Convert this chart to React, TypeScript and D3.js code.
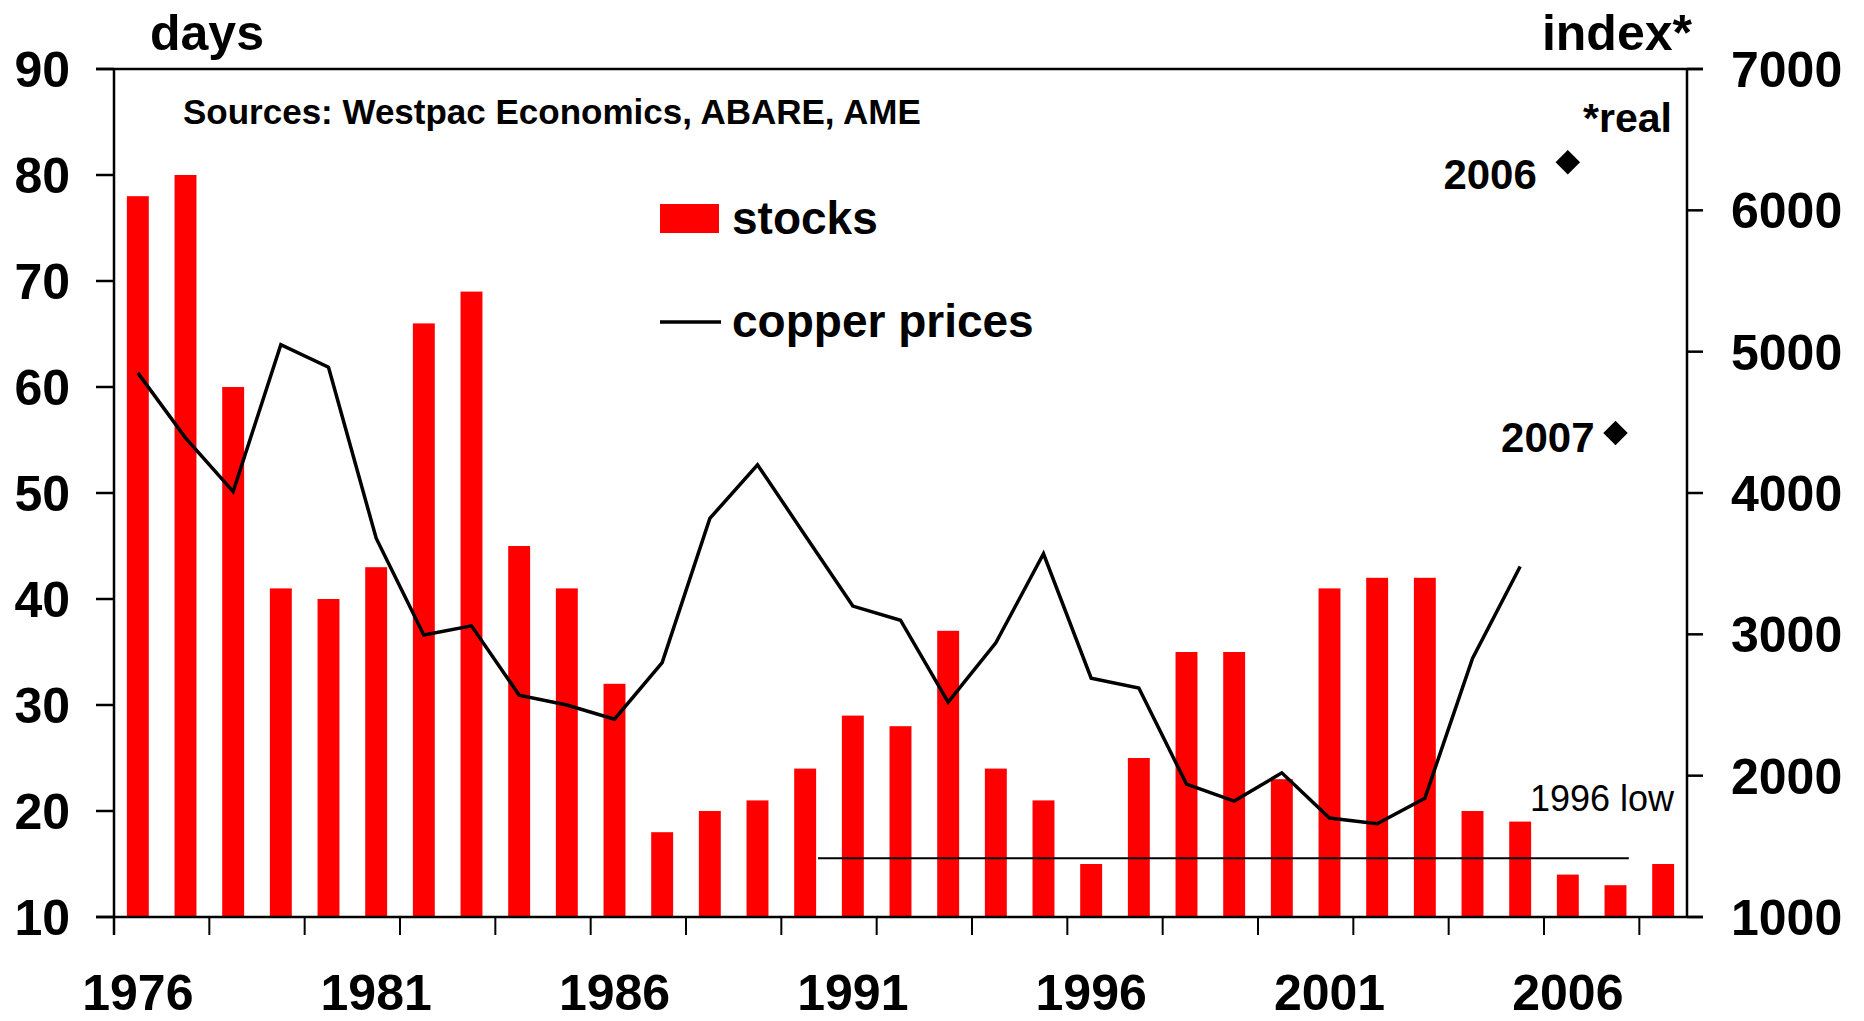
import React from 'react';
import * as d3 from 'd3';

// stocks in days of consumption, 1976-2008
const years = d3.range(1976, 2009);
const stocks = [
  78, 80, 60, 41, 40, 43, 66, 69, 45, 41, 32, 18, 20, 21, 24, 29, 28,
  37, 24, 21, 15, 25, 35, 35, 23, 41, 42, 42, 20, 19, 14, 13, 15,
];

// real copper price index, 1976-2005
const priceYears = d3.range(1976, 2006);
const copperPrices = [
  4850, 4390, 4010, 5050, 4890, 3680, 2995, 3060, 2570, 2500, 2400, 2800,
  3820, 4200, 3700, 3200, 3100, 2520, 2940, 3570, 2690, 2620, 1940, 1820,
  2020, 1700, 1660, 1840, 2830, 3480,
];

// forecast points
const forecastYears = [2006, 2007];
const forecastPrices = [6340, 4425];

const leftTicks = [10, 20, 30, 40, 50, 60, 70, 80, 90];
const rightTicks = [1000, 2000, 3000, 4000, 5000, 6000, 7000];
const yearLabels = [1976, 1981, 1986, 1991, 1996, 2001, 2006];

const lowLevel = 15.55; // 1996 low in days
const lowFrom = 1990.27;
const lowTo = 2007.28;

const App = () => {
  const width = 1864;
  const height = 1021;
  const left = 114;
  const right = 1687;
  const top = 69;
  const bottom = 917;
  const font = '"Liberation Sans", Arial, sans-serif';

  const x = d3.scaleLinear().domain([1975.5, 2008.5]).range([left, right]);
  const yLeft = d3.scaleLinear().domain([10, 90]).range([bottom, top]);
  const yRight = d3.scaleLinear().domain([1000, 7000]).range([bottom, top]);
  const band = x(1) - x(0);
  const barW = band * 0.46;

  const line = d3
    .line<number>()
    .x((_, i) => x(priceYears[i]))
    .y((d) => yRight(d));

  const diamond = d3.symbol().type(d3.symbolSquare).size(300)() || '';

  // x ticks every two years from the left edge
  const xTicks = d3.range(1975.5, 2008, 2);

  return (
    <svg
      width={width}
      height={height}
      style={{ position: 'absolute', left: 0, top: 0, background: '#fff' }}
      fontFamily={font}
      fontWeight="bold"
    >
      {/* bars */}
      {stocks.map((d, i) => (
        <rect
          key={years[i]}
          x={x(years[i]) - barW / 2}
          y={yLeft(d)}
          width={barW}
          height={bottom - yLeft(d)}
          fill="#ff0000"
        />
      ))}

      {/* 1996 low */}
      <line x1={x(lowFrom)} x2={x(lowTo)} y1={yLeft(lowLevel)} y2={yLeft(lowLevel)} stroke="#000" strokeWidth={2} />
      <text x={1674} y={811} fontSize={36} fontWeight="normal" textAnchor="end">1996 low</text>

      {/* copper price */}
      <path d={line(copperPrices) || ''} fill="none" stroke="#000" strokeWidth={3.5} strokeLinejoin="miter" />
      {forecastPrices.map((d, i) => (
        <path
          key={forecastYears[i]}
          d={diamond}
          transform={`translate(${x(forecastYears[i])},${yRight(d)}) rotate(45)`}
          fill="#000"
        />
      ))}
      <text x={x(2006) - 31} y={yRight(6340) + 27} fontSize={42} textAnchor="end">2006</text>
      <text x={x(2007) - 21} y={yRight(4425) + 19} fontSize={42} textAnchor="end">2007</text>

      {/* frame */}
      <line x1={left - 18} x2={right + 16} y1={top} y2={top} stroke="#000" strokeWidth={2.5} />
      <line x1={left - 18} x2={right + 16} y1={bottom} y2={bottom} stroke="#000" strokeWidth={2.5} />
      <line x1={left} x2={left} y1={top} y2={bottom + 18} stroke="#000" strokeWidth={2.5} />
      <line x1={right} x2={right} y1={top} y2={bottom} stroke="#000" strokeWidth={2.5} />

      {/* left axis */}
      {leftTicks.map((t) => (
        <g key={t}>
          <line x1={left - 18} x2={left} y1={yLeft(t)} y2={yLeft(t)} stroke="#000" strokeWidth={2.5} />
          <text x={70} y={yLeft(t)} dy="0.36em" fontSize={50} textAnchor="end">{t}</text>
        </g>
      ))}

      {/* right axis */}
      {rightTicks.map((t) => (
        <g key={t}>
          <line x1={right} x2={right + 16} y1={yRight(t)} y2={yRight(t)} stroke="#000" strokeWidth={2.5} />
          <text x={1731} y={yRight(t)} dy="0.36em" fontSize={50}>{t}</text>
        </g>
      ))}

      {/* x axis */}
      {xTicks.map((t) => (
        <line key={t} x1={x(t)} x2={x(t)} y1={bottom} y2={bottom + 18} stroke="#000" strokeWidth={2} />
      ))}
      {yearLabels.map((yr) => (
        <text key={yr} x={x(yr)} y={1010} fontSize={50} textAnchor="middle">{yr}</text>
      ))}

      {/* titles */}
      <text x={150} y={50} fontSize={50}>days</text>
      <text x={1692} y={50} fontSize={50} textAnchor="end">index*</text>
      <text x={1672} y={132} fontSize={41} textAnchor="end">*real</text>
      <text x={183} y={124} fontSize={35}>Sources: Westpac Economics, ABARE, AME</text>

      {/* legend */}
      <rect x={660} y={204} width={59} height={29} fill="#ff0000" />
      <text x={732} y={234} fontSize={46}>stocks</text>
      <line x1={660} x2={721} y1={322} y2={322} stroke="#000" strokeWidth={3.5} />
      <text x={732} y={337} fontSize={46}>copper prices</text>
    </svg>
  );
};

export default App;
